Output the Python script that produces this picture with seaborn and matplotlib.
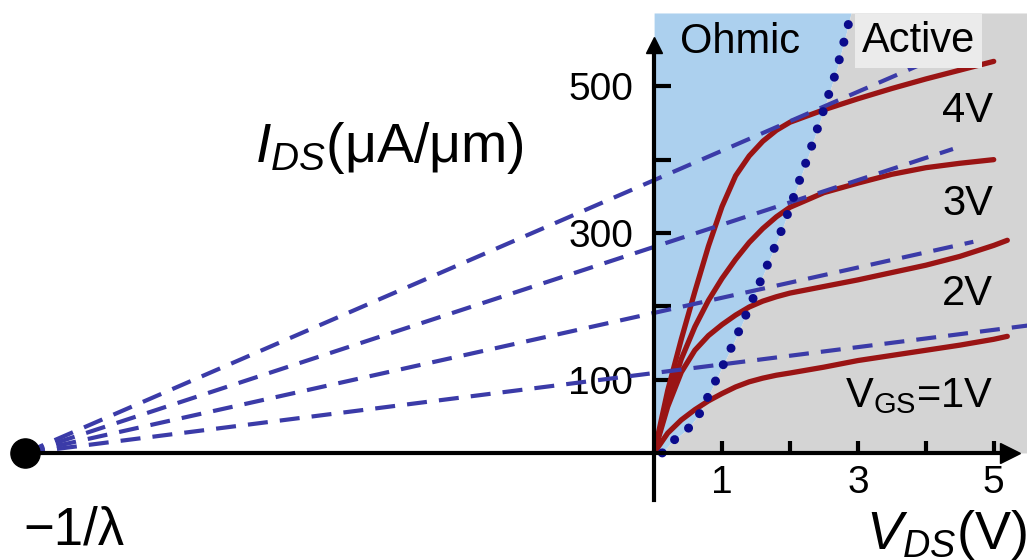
import numpy as np
import pandas as pd
import seaborn as sns
import matplotlib.pyplot as plt

# ---- data ----
vds = [0, 0.2, 0.4, 0.6, 0.8, 1.0, 1.2, 1.4, 1.6, 1.8, 2.0, 2.5, 3.0, 3.5, 4.0, 4.5, 5.0, 5.2]
ids_1v = [0, 27, 45, 59, 71, 81, 90, 97, 102, 106, 109, 117, 126, 133, 140, 147, 155, 159]
ids_2v = [0, 63, 110, 140, 160, 175, 188, 199, 207, 213, 218, 227, 236, 246, 256, 268, 283, 290]
ids_3v = [0, 70, 128, 172, 208, 238, 264, 287, 306, 322, 335, 355, 368, 380, 389, 395, 400, np.nan]
ids_4v = [0, 85, 155, 220, 282, 336, 378, 405, 425, 440, 451, 468, 483, 497, 510, 522, 534, np.nan]
vgs_labels = ["V$_{\\mathrm{GS}}$=1V", "2V", "3V", "4V"]
label_y = [63, 202, 325, 452]

# saturation boundary (dotted)
sat_x = [0.12, 0.26, 0.5, 0.68, 0.94, 1.2, 1.44, 1.68, 1.9, 2.1, 2.3, 2.49, 2.68, 2.83, 2.9]
sat_y = [0, 15, 33, 55, 105, 156, 207, 259, 309, 361, 413, 466, 520, 573, 600]

# Early-voltage extrapolation
early_v = -9.26
early_icpt = [109, 191, 281, 372]
early_end = [5.6, 4.7, 4.4, 4.7]

ytick_major = [100, 300, 500]
ytick_minor = [200, 400]
xtick_major = [1, 3, 5]
xtick_minor = [2, 4]

sns.set_theme(style="white")
plt.rcParams['font.family'] = ['Liberation Sans', 'DejaVu Sans']
plt.rcParams['mathtext.fontset'] = 'custom'
plt.rcParams['mathtext.rm'] = 'Liberation Sans'
plt.rcParams['mathtext.it'] = 'Liberation Sans:italic'
plt.rcParams['text.color'] = 'black'

red = '#9a1414'
dash_blue = '#3b3ba8'
dot_blue = '#0b0b8c'

fig = plt.figure(figsize=(10.27, 5.6), dpi=100)
ax = fig.add_axes([0, 0, 1, 1])
ax.set_xlim(-9.63, 5.49)
ax.set_ylim(-146, 617.7)

# regions
ax.fill_betweenx(sat_y, 0, sat_x, color='#acd0ee', lw=0, zorder=0)
ax.fill_betweenx(sat_y, sat_x, 5.49, color='#d4d4d4', lw=0, zorder=0)

# output curves
df = pd.DataFrame({
    'vds': vds * 4,
    'ids': ids_1v + ids_2v + ids_3v + ids_4v,
    'vgs': np.repeat([1, 2, 3, 4], len(vds)),
})
sns.lineplot(data=df, x='vds', y='ids', units='vgs', estimator=None,
             color=red, lw=3.8, ax=ax, zorder=3)

# Early lines
for icpt, xe in zip(early_icpt, early_end):
    slope = icpt / (-early_v)
    ax.plot([early_v, xe], [0, icpt + slope * xe], color=dash_blue, lw=3,
            dashes=(4.8, 2.9), zorder=4)

# saturation boundary
ax.plot(sat_x, sat_y, color=dot_blue, lw=6.5, linestyle=(0, (0.01, 2.0)),
        dash_capstyle='round', zorder=5)

ax.plot(early_v, 0, 'o', ms=21, color='black', zorder=6, clip_on=False)

# axes through origin
for s in ['top', 'right']:
    ax.spines[s].set_visible(False)
ax.spines['left'].set_position(('data', 0))
ax.spines['bottom'].set_position(('data', 0))
ax.spines['left'].set_bounds(-64, 557)
ax.spines['bottom'].set_bounds(early_v, 5.24)
for s in ['left', 'bottom']:
    ax.spines[s].set_linewidth(3)
    ax.spines[s].set_color('black')
    ax.spines[s].set_zorder(6)
ax.plot(0, 557, '^', ms=12, color='black', zorder=7, clip_on=False)
ax.plot(5.24, 0, '>', ms=14, color='black', zorder=7, clip_on=False)

ax.set_yticks(ytick_major)
ax.set_yticks(ytick_minor, minor=True)
ax.set_xticks(xtick_major)
ax.set_xticks(xtick_minor, minor=True)
ax.tick_params(axis='y', which='both', direction='in', length=12, width=3,
               color='black', labelcolor='black', labelsize=28, pad=15, left=True)
ax.tick_params(axis='x', which='both', direction='in', length=9, width=3,
               color='black', labelcolor='black', labelsize=28, pad=9, bottom=True)
for t in ax.get_xticklabels() + ax.get_yticklabels():
    t.set_zorder(8)
ax.set_xlabel('')
ax.set_ylabel('')

# labels
for txt, yv in zip(vgs_labels, label_y):
    ax.text(4.99, yv, txt, fontsize=30, ha='right', va='baseline', zorder=8)
ax.text(0.38, 546, 'Ohmic', fontsize=30, ha='left', va='baseline', zorder=8)
ax.text(3.89, 547, 'Active', fontsize=30, ha='center', va='baseline', zorder=4.5,
        bbox=dict(facecolor='#ebebeb', edgecolor='none', pad=5))
ax.text(-5.88, 397, '$\\mathit{I}_{\\mathit{DS}}$(μA/μm)', fontsize=40,
        ha='left', va='baseline')
ax.text(5.49, -131, '$\\mathit{V}_{\\mathit{DS}}$(V)', fontsize=39,
        ha='right', va='baseline')
ax.text(-9.29, -125, '−1/λ', fontsize=38, ha='left', va='baseline')

fig.savefig('out.png', dpi=100)
